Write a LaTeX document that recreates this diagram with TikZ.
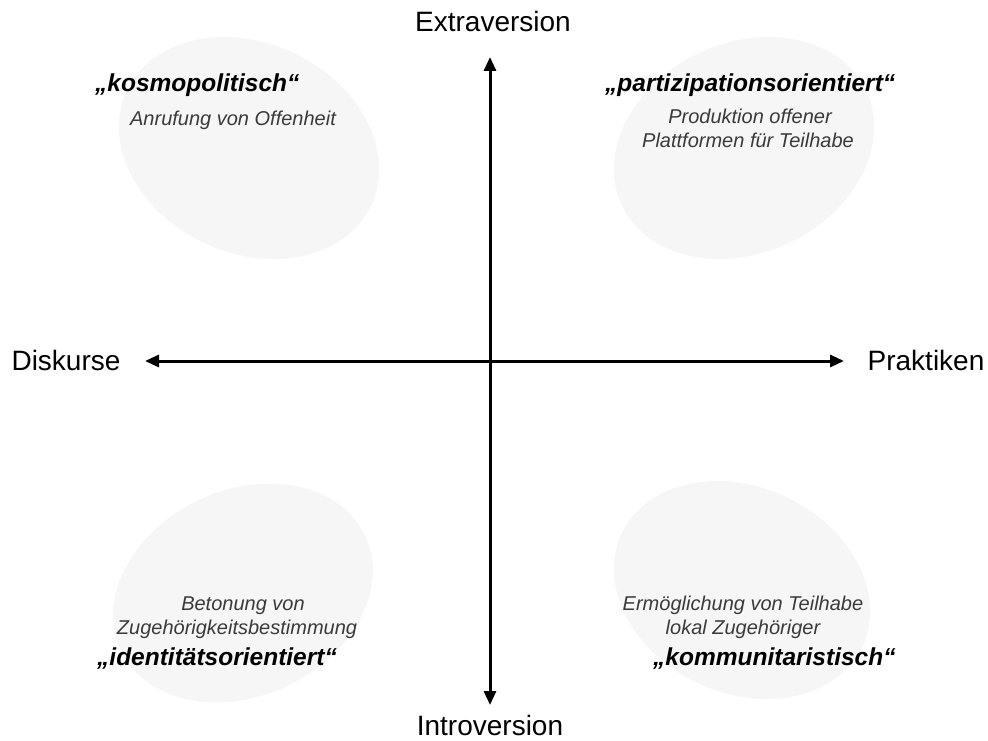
\documentclass[tikz,border=0pt]{standalone}
\usepackage{fontspec}
\setmainfont{Liberation Sans}
\usetikzlibrary{arrows.meta}
\definecolor{blobgray}{HTML}{F6F6F6}
\definecolor{desc}{HTML}{3A3A3A}
\tikzset{
  axislabel/.style={font=\fontsize{28}{32}\selectfont, anchor=base, inner sep=0pt},
  title/.style={font=\fontsize{24.5}{28}\selectfont\bfseries\itshape, anchor=base west, inner sep=0pt},
  descr/.style={font=\fontsize{20}{23}\selectfont\itshape, text=desc, anchor=base, inner sep=0pt},
  blob/.style={fill=blobgray, draw=none},
  axis/.style={line width=3pt, {Triangle[length=14pt,width=12pt]}-{Triangle[length=14pt,width=12pt]}}
}
\begin{document}
\begin{tikzpicture}[x=1pt,y=-1pt]
\useasboundingbox (0,0) rectangle (988,741);
% background blobs
\fill[blob, rotate around={-25:(249,148)}] (249,148) ellipse [x radius=135pt, y radius=105pt];
\fill[blob, rotate around={25:(744,148)}] (744,148) ellipse [x radius=135pt, y radius=105pt];
\fill[blob, rotate around={25:(243,593)}] (243,593) ellipse [x radius=135pt, y radius=103pt];
\fill[blob, rotate around={-25:(742,590)}] (742,590) ellipse [x radius=133pt, y radius=103pt];
% axes
\coordinate (top) at (490,57);
\coordinate (bottom) at (490,705);
\coordinate (left) at (145,361);
\coordinate (right) at (844,361);
\draw[axis] (top) -- (bottom);
\draw[axis] (left) -- (right);
% axis labels
\node[axislabel] (extra) at (493,32) {Extraversion};
\node[axislabel] (intro) at (490,735) {Introversion};
\node[axislabel] (disk) at (66,370) {Diskurse};
\node[axislabel] (prak) at (926,370) {Praktiken};
% quadrant texts
\node[title] (kosmo) at (95,92) {„kosmopolitisch“};
\node[descr] (kosmoA) at (233,126) {Anrufung von Offenheit};
\node[title] (parti) at (605,92) {„partizipationsorientiert“};
\node[descr] (partiA) at (750,124) {Produktion offener};
\node[descr] (partiB) at (748,148) {Plattformen für Teilhabe};
\node[descr] (identA) at (243,610) {Betonung von};
\node[descr] (identB) at (237,634) {Zugehörigkeitsbestimmung};
\node[title] (ident) at (97,665) {„identitätsorientiert“};
\node[descr] (kommA) at (743,610) {Ermöglichung von Teilhabe};
\node[descr] (kommB) at (743,634) {lokal Zugehöriger};
\node[title] (komm) at (653,665) {„kommunitaristisch“};
\end{tikzpicture}
\end{document}
